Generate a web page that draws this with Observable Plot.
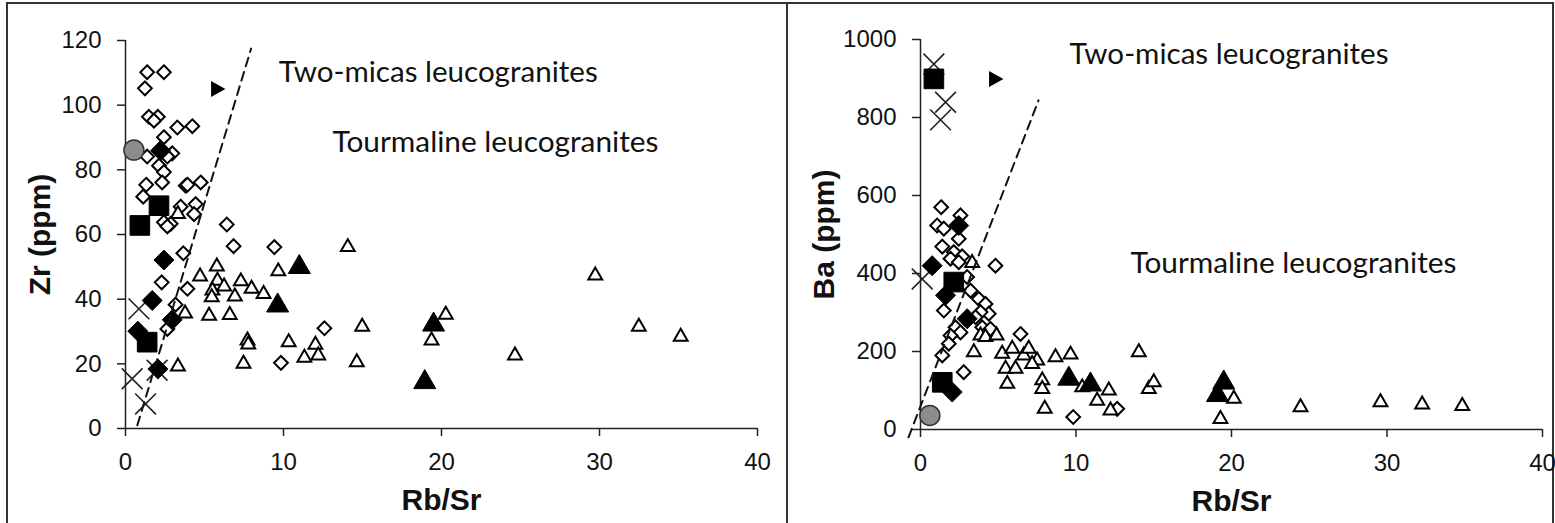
<!DOCTYPE html>
<html>
<head>
<meta charset="utf-8">
<script src="https://cdn.jsdelivr.net/npm/d3@7"></script>
<script src="https://cdn.jsdelivr.net/npm/@observablehq/plot@0.6"></script>
<style>
  html, body { margin: 0; padding: 0; background: #fff; }
  #wrap { position: relative; width: 1555px; height: 523px; overflow: hidden; background: #fff; }
  .panel { position: absolute; top: 0; }
  .bline { position: absolute; background: #333; }
</style>
</head>
<body>
<div id="wrap">
  <div class="bline" style="left:6px;top:2px;width:1548px;height:2px"></div>
  <div class="bline" style="left:6px;top:2px;width:2px;height:530px"></div>
  <div class="bline" style="left:786px;top:2px;width:2px;height:530px"></div>
  <div class="bline" style="left:1552px;top:2px;width:2px;height:530px"></div>
  <div id="left" class="panel" style="left:0px"></div>
  <div id="right" class="panel" style="left:787px"></div>
</div>
<script>
// ---------- shared axis ticks ----------
const rbSrTicks = [0, 10, 20, 30, 40];
const zrTicks = [0, 20, 40, 60, 80, 100, 120];
const baTicks = [0, 200, 400, 600, 800, 1000];

// ---------- Left panel: Zr (ppm) vs Rb/Sr, pairs [Rb/Sr, Zr] ----------
const zrOpenDiamonds = [
  [1.37,110.2],[2.43,110.2],[1.23,105.2],[1.48,96.4],[2.05,96.4],[1.8,95.2],[3.28,93.1],[4.23,93.5],
  [2.43,90.1],[2.22,86.5],[1.37,84.1],[2.96,85.1],[2.65,84.1],[2.12,81.3],[2.43,79.3],[1.31,75.4],
  [2.32,76.1],[1.12,71.7],[3.81,75.1],[3.92,75.4],[4.76,76.1],[3.49,68.6],[4.44,69.4],[4.34,66.3],
  [2.43,63.8],[2.86,63.3],[2.65,62.5],[6.41,63.1],[6.84,56.4],[9.42,56.1],[3.66,54.2],[2.29,45.2],
  [3.92,43.2],[3.17,38.3],[2.65,30.8],[12.59,31.0],[9.84,20.3]
];
const zrOpenTriangles = [
  [3.32,66.3],[14.07,56.1],[4.72,47.0],[5.78,50.1],[5.82,45.7],[5.5,42.7],[6.24,43.9],[7.3,45.5],
  [7.98,43.2],[8.74,41.6],[6.92,40.8],[5.46,40.6],[9.67,48.6],[3.77,35.6],[5.29,34.9],[6.6,35.1],
  [7.72,27.2],[7.77,26.0],[10.33,26.7],[12.02,25.9],[12.2,22.6],[11.32,21.9],[7.47,20.0],[3.32,19.2],
  [14.64,20.5],[29.73,47.3],[20.27,35.2],[19.37,27.2],[14.98,31.5],[24.65,22.6],[32.49,31.5],[35.14,28.4]
];
const zrCrosses = [[0.85,37.0],[0.42,15.4],[1.27,7.6],[2.0,18.0]];
const zrFilledTriangles = [[11.0,49.9],[9.63,38.0],[19.5,32.1],[18.94,14.3]];
const zrFilledDiamonds = [[2.22,85.9],[2.43,52.1],[1.69,39.6],[2.96,33.6],[0.78,30.1],[2.05,18.4]];
const zrSquares = [[0.91,62.8],[2.12,68.9],[1.37,26.7]];
const zrCircles = [[0.53,86.1]];
const zrArrowheads = [[5.82,105.0]];
const zrDivider = [[0.75,1.0],[7.95,117.5]];
const zrNotes = [
  {x: 9.7, y: 110, text: "Two-micas leucogranites"},
  {x: 13.1, y: 88.4, text: "Tourmaline leucogranites"}
];

// ---------- Right panel: Ba (ppm) vs Rb/Sr, pairs [Rb/Sr, Ba] ----------
const baOpenDiamonds = [
  [1.33,570],[1.07,523],[1.50,515],[2.57,549],[2.46,489],[1.40,469],[2.14,455],[1.93,438],[2.68,444],
  [2.46,429],[4.82,420],[3.0,391],[3.22,356],[3.75,335],[4.18,322],[4.39,297],[3.86,301],[3.54,288],
  [1.50,305],[2.25,262],[2.57,249],[1.93,241],[3.97,262],[4.50,258],[6.43,245],[1.82,220],[1.40,190],
  [2.78,147],[9.82,32],[12.65,53]
];
const baOpenTriangles = [
  [3.32,427],[3.86,241],[4.18,237],[4.89,241],[3.43,198],[5.25,194],[5.90,207],[6.64,190],[6.96,207],
  [7.50,177],[7.18,168],[5.47,156],[6.11,156],[8.68,185],[9.65,192],[5.58,117],[7.83,126],[7.83,104],
  [10.4,108],[12.11,100],[11.36,74],[7.99,53],[12.22,49],[14.04,198],[14.68,104],[15.0,121],[20.15,79],
  [19.29,27],[24.44,57],[29.58,70],[32.26,64],[34.84,60]
];
const baCrosses = [[0.86,937],[1.61,839],[1.29,794],[0.11,386]];
const baFilledTriangles = [[9.54,130],[10.93,115],[19.5,120],[19.1,88]];
const baFilledDiamonds = [[2.46,523],[0.75,420],[1.61,344],[3.0,284],[2.04,96]];
const baSquares = [[0.86,899],[2.14,378],[1.40,121]];
const baCircles = [[0.60,36]];
const baArrowheads = [[4.82,899]];
const baDivider = [[-0.77,-20],[7.59,844]];
const baNotes = [
  {x: 9.58, y: 959, text: "Two-micas leucogranites"},
  {x: 13.5, y: 423, text: "Tourmaline leucogranites"}
];

// ---------- drawing ----------
const rightArrow = {
  draw(context, size) {
    const s = Math.sqrt(size / Math.PI);
    context.moveTo(-0.8 * s, -s);
    context.lineTo(1.0 * s, 0);
    context.lineTo(-0.8 * s, s);
    context.closePath();
  }
};

const px = d => d[0], py = d => d[1];
const plain = d3.format("d");

function panel(cfg) {
  const s = cfg.series;
  const plot = Plot.plot({
    width: cfg.width, height: 523,
    marginLeft: cfg.marginLeft, marginRight: cfg.marginRight,
    marginTop: cfg.marginTop, marginBottom: cfg.marginBottom,
    x: {domain: [0, 40], axis: null},
    y: {domain: cfg.yDomain, axis: null},
    style: {fontFamily: "'Liberation Sans', Arial, sans-serif", fontSize: "24px", color: "#111", background: "transparent", overflow: "visible"},
    marks: [
      Plot.axisX(rbSrTicks, {tickSize: 8, tickPadding: 16, tickFormat: plain, label: null, stroke: "#222", strokeWidth: 1.5}),
      Plot.axisX([], {label: "Rb/Sr", labelAnchor: "center", labelArrow: "none", labelOffset: 81, fontSize: 30, fontWeight: "bold", tickSize: 0}),
      Plot.axisY(cfg.yTicks, {tickSize: 8, tickPadding: 16, tickFormat: plain, label: null, stroke: "#222", strokeWidth: 1.5}),
      Plot.axisY([], {label: cfg.yLabel, labelAnchor: "center", labelArrow: "none", labelOffset: cfg.yLabelOffset, fontSize: 30, fontWeight: "bold", tickSize: 0}),
      Plot.ruleY([0], {stroke: "#222", strokeWidth: 1.5}),
      Plot.ruleX([0], {stroke: "#222", strokeWidth: 1.5}),
      Plot.dot(s.openDiamonds, {x: px, y: py, symbol: "diamond2", r: 6.2, fill: "white", stroke: "black", strokeWidth: 2}),
      Plot.dot(s.openTriangles, {x: px, y: py, symbol: "triangle2", r: 6.6, fill: "white", stroke: "black", strokeWidth: 2}),
      Plot.dot(s.crosses, {x: px, y: py, symbol: "times", r: 9.5, stroke: "#222", strokeWidth: 1.6}),
      Plot.dot(s.filledTriangles, {x: px, y: py, symbol: "triangle2", r: 10.5, fill: "black", stroke: "black", strokeWidth: 1}),
      Plot.dot(s.filledDiamonds, {x: px, y: py, symbol: "diamond2", r: 9, fill: "black", stroke: "black", strokeWidth: 1}),
      Plot.dot(s.squares, {x: px, y: py, symbol: "square2", r: 12.5, fill: "black", stroke: "black", strokeWidth: 1}),
      Plot.dot(s.circles, {x: px, y: py, symbol: "circle", r: 10, fill: "#8c8c8c", stroke: "#333", strokeWidth: 1.5}),
      Plot.dot(s.arrowheads, {x: px, y: py, symbol: rightArrow, r: 8, fill: "black", stroke: "none"}),
      Plot.line(s.divider, {x: px, y: py, stroke: "#111", strokeWidth: 2, strokeDasharray: "9,6"}),
      Plot.text(s.notes, {x: "x", y: "y", text: "text", textAnchor: "start", lineAnchor: "middle", fontSize: 28, fontFamily: "Lato, 'Open Sans', sans-serif", fill: "#111"})
    ]
  });
  d3.select(plot).selectAll('g[aria-label="text"] text').each(function () {
    const t = this.textContent;
    d3.select(this)
      .attr("textLength", t.startsWith("Two") ? 319 : 326)
      .attr("lengthAdjust", "spacingAndGlyphs");
  });
  return plot;
}

document.getElementById("left").appendChild(panel({
  width: 787, marginLeft: 125, marginRight: 30, marginTop: 40, marginBottom: 95,
  yDomain: [0, 120], yTicks: zrTicks, yLabel: "Zr (ppm)", yLabelOffset: 97,
  series: {
    openDiamonds: zrOpenDiamonds, openTriangles: zrOpenTriangles, crosses: zrCrosses,
    filledTriangles: zrFilledTriangles, filledDiamonds: zrFilledDiamonds, squares: zrSquares,
    circles: zrCircles, arrowheads: zrArrowheads, divider: zrDivider, notes: zrNotes
  }
}));

document.getElementById("right").appendChild(panel({
  width: 768, marginLeft: 133, marginRight: 13, marginTop: 39, marginBottom: 94,
  yDomain: [0, 1000], yTicks: baTicks, yLabel: "Ba (ppm)", yLabelOffset: 108,
  series: {
    openDiamonds: baOpenDiamonds, openTriangles: baOpenTriangles, crosses: baCrosses,
    filledTriangles: baFilledTriangles, filledDiamonds: baFilledDiamonds, squares: baSquares,
    circles: baCircles, arrowheads: baArrowheads, divider: baDivider, notes: baNotes
  }
}));
</script>
</body>
</html>
